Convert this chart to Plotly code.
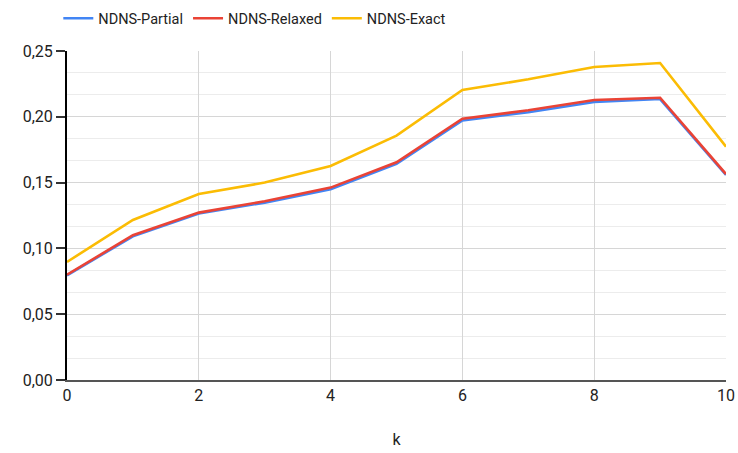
import plotly.graph_objects as go

k = [0, 1, 2, 3, 4, 5, 6, 7, 8, 9, 10]
partial = [0.0795, 0.1092, 0.1265, 0.1348, 0.1450, 0.1642, 0.1972, 0.2035, 0.2113, 0.2135, 0.1558]
relaxed = [0.0800, 0.1100, 0.1272, 0.1358, 0.1462, 0.1654, 0.1985, 0.2050, 0.2128, 0.2145, 0.1565]
exact = [0.0897, 0.1216, 0.1413, 0.1500, 0.1626, 0.1857, 0.2204, 0.2285, 0.2378, 0.2409, 0.1773]
names = ["NDNS-Partial", "NDNS-Relaxed", "NDNS-Exact"]
colors = ["#4285F4", "#EA4335", "#FBBC04"]

fig = go.Figure()
for name, ys, c in zip(names, [partial, relaxed, exact], colors):
    fig.add_trace(go.Scatter(x=k, y=ys, mode="lines", name=name,
                             line=dict(color=c, width=2.6)))

fig.update_layout(
    width=738, height=453,
    margin=dict(l=67, r=12, t=51, b=73),
    paper_bgcolor="white", plot_bgcolor="white",
    font=dict(family="Roboto, Arial, sans-serif", size=16, color="#222222"),
    separators=",.",
    showlegend=True,
    legend=dict(orientation="h", xref="container", x=0.079, xanchor="left",
                yref="container", y=0.995, yanchor="top",
                font=dict(size=14.5, color="#222222"),
                itemwidth=30, traceorder="normal"),
    xaxis=dict(range=[0, 10], tick0=0, dtick=2, showgrid=True, gridcolor="#d6d6d6",
               gridwidth=1.2, zeroline=False, showline=True, linecolor="#555555",
               linewidth=1.5, ticks="", tickfont=dict(size=16, color="#222222"),
               automargin=False,
               title=dict(text="k", standoff=30, font=dict(size=16, color="#222222"))),
    yaxis=dict(range=[0, 0.25], tick0=0, dtick=0.05, tickformat=".2f",
               showgrid=True, gridcolor="#d6d6d6", gridwidth=1.2, automargin=False,
               zeroline=False, showline=True, linecolor="#000000", linewidth=2,
               ticks="outside", ticklen=9, tickwidth=1.5, tickcolor="#333333",
               tickfont=dict(size=16, color="#222222"),
               minor=dict(dtick=0.05 / 3, tick0=0, showgrid=True, gridcolor="#ececec",
                          gridwidth=1)),
    yaxis2=dict(range=[0, 0.25], tick0=0, dtick=0.05, overlaying="y", side="left",
                showgrid=False, zeroline=False, showline=False, ticks="inside",
                automargin=False,
                ticklen=9, tickwidth=1.5, tickcolor="#333333", showticklabels=False),
    yaxis3=dict(range=[0, 0.25], overlaying="y", side="right", showgrid=False,
                zeroline=False, showline=True, linecolor="#d6d6d6", linewidth=1.2,
                automargin=False, ticks="", showticklabels=False),
)

fig.write_html("out.html")
